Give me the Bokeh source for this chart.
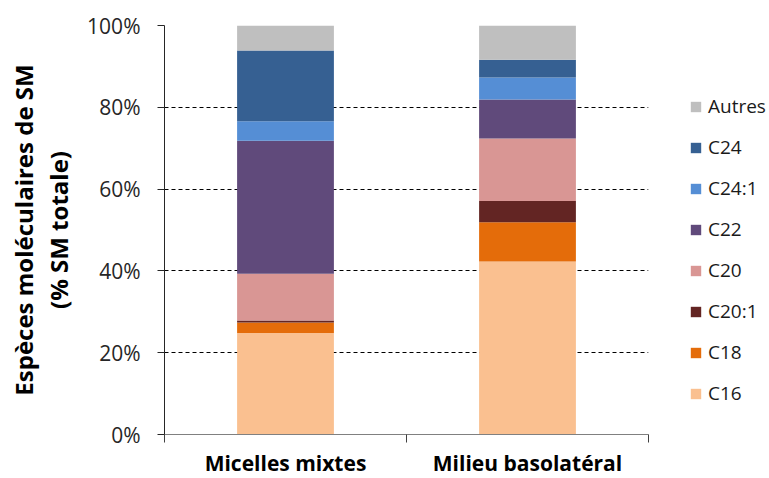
from bokeh.plotting import figure
from bokeh.models import (ColumnDataSource, FixedTicker, Legend, LegendItem, Range1d,
                          CustomJSTickFormatter, PrintfTickFormatter)
from bokeh.embed import file_html
from bokeh.resources import INLINE

categories = ["Micelles mixtes", "Milieu basolatéral"]
species = ["C16", "C18", "C20:1", "C20", "C22", "C24:1", "C24", "Autres"]
c16 = [24.8, 42.3]
c18 = [2.6, 9.6]
c20_1 = [0.5, 5.2]
c20 = [11.4, 15.3]
c22 = [32.5, 9.5]
c24_1 = [4.8, 5.4]
c24 = [17.3, 4.3]
autres = [6.1, 8.4]
y_ticks = [0, 20, 40, 60, 80, 100]
colors = ["#FAC090", "#E46C0A", "#632523", "#D99694", "#604A7B", "#558ED5", "#366092", "#BFBFBF"]

FONT = "Open Sans"

data = dict(x=[i + 0.5 for i in range(len(categories))])
for name, vals in zip(species, [c16, c18, c20_1, c20, c22, c24_1, c24, autres]):
    data[name] = vals
source = ColumnDataSource(data)

p = figure(frame_width=484, frame_height=409, output_backend="svg", toolbar_location=None,
           x_range=Range1d(0, len(categories)), y_range=Range1d(0, 100),
           min_border_left=164, min_border_right=0, min_border_top=25, min_border_bottom=0)

renderers = p.vbar_stack(species, x="x", width=0.4, source=source, color=colors, line_color=None)

# Y axis
p.yaxis.ticker = FixedTicker(ticks=y_ticks, minor_ticks=[])
p.yaxis.formatter = PrintfTickFormatter(format="%d%%")
p.yaxis.axis_line_color = "#262626"
p.yaxis.major_tick_line_color = "#262626"
p.yaxis.major_tick_out = 7
p.yaxis.major_tick_in = 0
p.yaxis.major_label_standoff = 17
p.yaxis.major_label_text_font = FONT
p.yaxis.major_label_text_font_size = "21px"
p.yaxis.major_label_text_color = "#262626"
p.yaxis.axis_label = "Espèces moléculaires de SM\n(% SM totale)"
p.yaxis.axis_label_text_font = FONT
p.yaxis.axis_label_text_font_style = "bold"
p.yaxis.axis_label_text_font_size = "24px"
p.yaxis.axis_label_text_line_height = 1.05
p.yaxis.axis_label_text_color = "#000000"
p.yaxis.axis_label_standoff = 9

# X axis
p.xaxis.ticker = FixedTicker(ticks=[i + 0.5 for i in range(len(categories))],
                             minor_ticks=list(range(len(categories) + 1)))
p.xaxis.formatter = CustomJSTickFormatter(args=dict(cats=categories),
                                          code="return cats[Math.floor(tick)] || '';")
p.xaxis.axis_line_color = "#808080"
p.xaxis.major_tick_line_color = None
p.xaxis.major_tick_out = 0
p.xaxis.major_tick_in = 0
p.xaxis.minor_tick_line_color = "#404040"
p.xaxis.minor_tick_out = 8
p.xaxis.minor_tick_in = 0
p.xaxis.major_label_standoff = 6
p.xaxis.major_label_text_font = FONT
p.xaxis.major_label_text_font_style = "bold"
p.xaxis.major_label_text_font_size = "21px"
p.xaxis.major_label_text_color = "#000000"

# Grid
p.xgrid.grid_line_color = None
p.ygrid.ticker = FixedTicker(ticks=y_ticks[1:])
p.ygrid.grid_line_color = "#000000"
p.ygrid.grid_line_dash = "4 3"
p.ygrid.grid_line_width = 1
p.outline_line_color = None

items = [LegendItem(label=name, renderers=[r]) for name, r in zip(species, renderers)][::-1]
legend = Legend(items=items, location=(41, 28), margin=21, padding=0, spacing=15,
                glyph_width=13, glyph_height=13, label_standoff=6, label_height=20,
                label_text_font=FONT, label_text_font_size="19px", label_text_color="#1a1a1a",
                border_line_color=None, background_fill_alpha=0)
p.add_layout(legend, "right")

open("out.html", "w").write(file_html(p, INLINE))
